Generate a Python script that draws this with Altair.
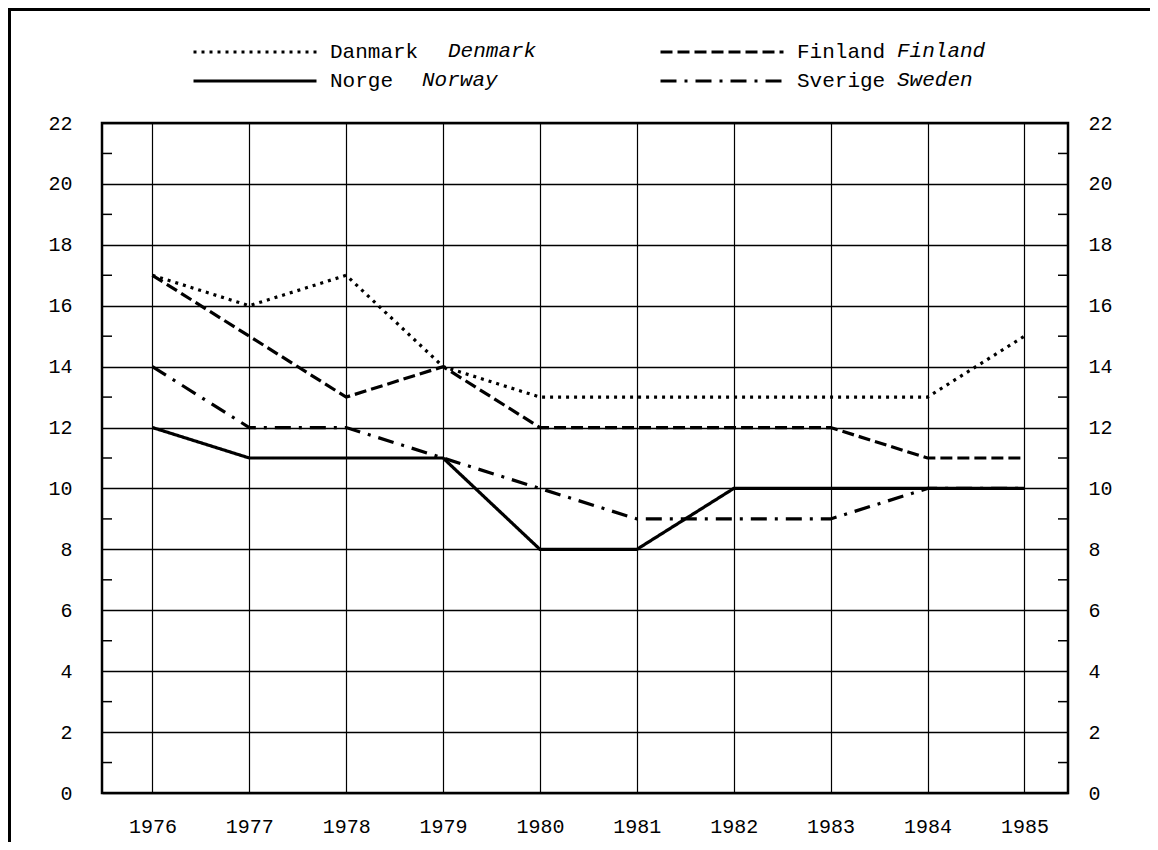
import altair as alt
import pandas as pd

years = [1976, 1977, 1978, 1979, 1980, 1981, 1982, 1983, 1984, 1985]
series_names = ["Danmark", "Norge", "Finland", "Sverige"]
english_names = ["Denmark", "Norway", "Finland", "Sweden"]
danmark = [17, 16, 17, 14, 13, 13, 13, 13, 13, 15]
norge = [12, 11, 11, 11, 8, 8, 10, 10, 10, 10]
finland = [17, 15, 13, 14, 12, 12, 12, 12, 11, 11]
sverige = [14, 12, 12, 11, 10, 9, 9, 9, 10, 10]
y_major = [0, 2, 4, 6, 8, 10, 12, 14, 16, 18, 20, 22]
y_minor = [1, 3, 5, 7, 9, 11, 13, 15, 17, 19, 21]

rows = []
for name, vals in zip(series_names, [danmark, norge, finland, sverige]):
    for yr, v in zip(years, vals):
        rows.append({"year": yr, "series": name, "value": v})
df = pd.DataFrame(rows)
minor_df = pd.DataFrame({"v": y_minor})

W, H = 966, 670
PAD = {"left": 94, "top": 115, "right": 82, "bottom": 49}

TICKF = "Liberation Mono"
LEG = "Liberation Mono"

xscale = alt.Scale(domain=[1975.48, 1985.45], nice=False, zero=False)
yscale = alt.Scale(domain=[0, 22], nice=False)

dash_scale = alt.Scale(domain=series_names,
                       range=[[3, 5], [1, 0], [12, 5], [16, 8, 3, 8]])

lines = alt.Chart(df).mark_line(color="black", strokeWidth=3.2, strokeCap="butt", strokeJoin="miter").encode(
    x=alt.X("year:Q", scale=xscale,
            axis=alt.Axis(values=years, format="d", title=None, grid=True, gridColor="black",
                          gridWidth=1.2, gridOpacity=1, tickSize=0, domain=False,
                          labelFont=TICKF, labelFontSize=20, labelColor="black",
                          labelPadding=23)),
    y=alt.Y("value:Q", scale=yscale,
            axis=alt.Axis(values=y_major, title=None, grid=True, gridColor="black",
                          gridWidth=1.5, gridOpacity=1, tickSize=0, domain=False,
                          labelFont=TICKF, labelFontSize=20, labelColor="black",
                          labelPadding=30, orient="left")),
    strokeDash=alt.StrokeDash("series:N", scale=dash_scale, sort=series_names,
                              legend=alt.Legend(orient="none", legendX=90, legendY=-85.5,
                                                columns=2, symbolType="stroke",
                                                symbolSize=15129, symbolStrokeWidth=3,
                                                symbolStrokeColor="black", clipHeight=29,
                                                rowPadding=0, columnPadding=240,
                                                labelOffset=12, labelFont=LEG,
                                                labelFontSize=21, labelColor="black",
                                                title=None, padding=0, labelLimit=0)),
    detail="series:N",
)

right_axis = alt.Chart(minor_df).mark_rule(strokeWidth=1.5, color="black").encode(
    y=alt.Y("v:Q", scale=yscale,
            axis=alt.Axis(values=y_major, title=None, grid=False, tickSize=0, domain=False,
                          labelFont=TICKF, labelFontSize=20, labelColor="black",
                          labelPadding=20, orient="right", labelAlign="left")),
    x=alt.value(W - 10),
    x2=alt.value(W),
)

left_minor = alt.Chart(minor_df).mark_rule(strokeWidth=1.5, color="black").encode(
    y=alt.Y("v:Q", scale=yscale, axis=None),
    x=alt.value(0),
    x2=alt.value(10),
)

frame_top = alt.Chart(pd.DataFrame({"a": [0]})).mark_rule(strokeWidth=3, color="black").encode(
    x=alt.value(-94), x2=alt.value(W + 82), y=alt.value(-113.5)
)
frame_left = alt.Chart(pd.DataFrame({"a": [0]})).mark_rule(strokeWidth=3, color="black").encode(
    x=alt.value(-92.5), y=alt.value(-115), y2=alt.value(H + 49)
)

eng_pos = [(346, -72), (320, -43), (795, -72), (795, -43)]
eng_layers = []
for name, (px, py) in zip(english_names, eng_pos):
    eng_layers.append(
        alt.Chart(pd.DataFrame({"t": [name]})).mark_text(
            font=LEG, fontSize=21, fontStyle="italic", align="left", baseline="middle",
            color="black"
        ).encode(x=alt.value(px), y=alt.value(py), text="t:N")
    )

chart = alt.layer(lines, right_axis, left_minor, frame_top, frame_left, *eng_layers).resolve_axis(
    y="independent"
).properties(
    width=W, height=H, padding=PAD, autosize=alt.AutoSizeParams(type="none"),
    background="white"
).configure_view(stroke="black", strokeWidth=2.5)

chart.save("out.html", embed_options={"renderer": "svg", "actions": False})
